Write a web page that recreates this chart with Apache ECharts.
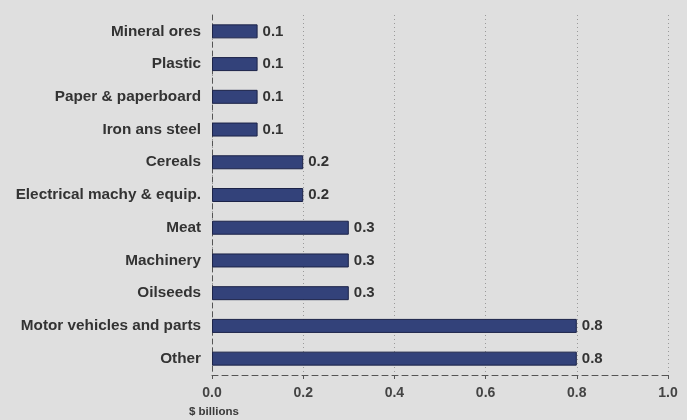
<!DOCTYPE html>
<html><head><meta charset="utf-8">
<script src="https://cdn.jsdelivr.net/npm/echarts@6/dist/echarts.min.js"></script>
<style>html,body{margin:0;padding:0;background:#dfdfdf}#c{width:687px;height:420px}</style>
</head><body><div id="c"></div>
<script>
const categories = ["Mineral ores","Plastic","Paper & paperboard","Iron ans steel","Cereals","Electrical machy & equip.","Meat","Machinery","Oilseeds","Motor vehicles and parts","Other"];
const values = [0.1,0.1,0.1,0.1,0.2,0.2,0.3,0.3,0.3,0.8,0.8];
const xTicks = [0,0.2,0.4,0.6,0.8,1.0];
const unitLabel = "$ billions";

const chart = echarts.init(document.getElementById('c'));
const font = 'Liberation Sans, Arial, sans-serif';
chart.setOption({
  backgroundColor: '#dfdfdf',
  animation: false,
  title: {text: unitLabel, left: 184, top: 401, textStyle: {fontFamily: font, fontSize: 11.5, fontWeight: 'bold', color: '#3a3a3a'}},
  grid: {left: 212, right: 19, top: 15, bottom: 45, containLabel: false},
  xAxis: {
    type: 'value', min: 0, max: 1.0, interval: 0.2,
    axisLine: {show: true, onZero: false, lineStyle: {color: '#555', type: [6,4], width: 1}},
    axisTick: {show: true, length: 4, lineStyle: {color: '#555'}},
    axisLabel: {margin: 11, fontFamily: font, fontSize: 14, fontWeight: 'bold', color: '#444',
      formatter: v => xTicks.includes(Math.round(v*10)/10) ? v.toFixed(1) : ''},
    splitLine: {show: true, lineStyle: {color: '#9a9a9a', type: [1,3], width: 1}}
  },
  yAxis: {
    type: 'category', data: categories, inverse: true,
    axisLine: {show: true, lineStyle: {color: '#555', type: [5,4]}},
    axisTick: {show: false},
    axisLabel: {margin: 11, fontFamily: font, fontSize: 15.3, fontWeight: 'bold', color: '#333'}
  },
  series: [{
    type: 'bar', data: values, barWidth: 14,
    itemStyle: {color: '#33427a', borderColor: '#1c2348', borderWidth: 1},
    label: {show: true, position: 'right', distance: 5, fontFamily: font, fontSize: 15, fontWeight: 'bold', color: '#333',
      formatter: p => p.value.toFixed(1)}
  }]
});
</script></body></html>
